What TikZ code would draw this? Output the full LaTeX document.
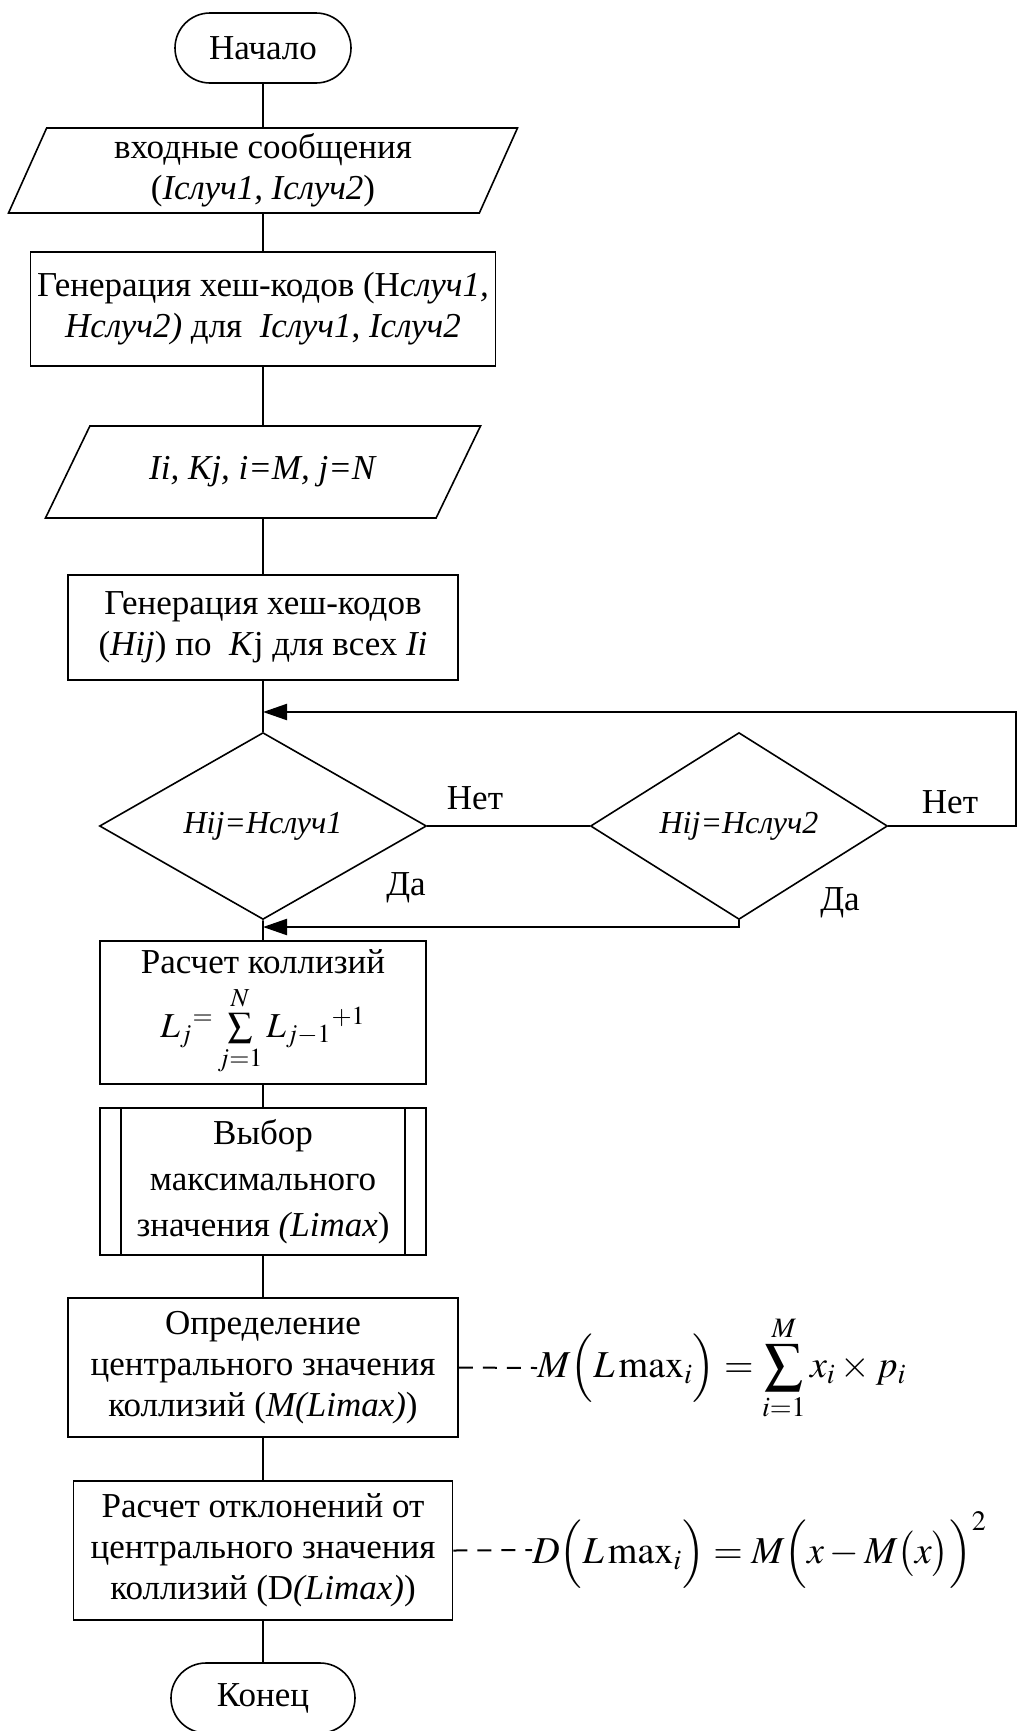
\documentclass[tikz,border=0pt]{standalone}
\usepackage{mathptmx}
\usepackage[no-math]{fontspec}
\setmainfont{Liberation Serif}
\usetikzlibrary{shapes.geometric,arrows.meta}
\tikzset{
  base/.style={draw,line width=0.8pt,align=center,inner sep=0pt,font=\fontsize{17.5}{20.5}\selectfont},
  term/.style={base,rectangle,rounded corners=17.5pt,minimum height=35pt},
  proc/.style={base,rectangle},
  io/.style={base,trapezium,trapezium left angle=#1,trapezium right angle=180-#1,trapezium stretches body},
  decide/.style={base,diamond,minimum height=69.5pt,font=\fontsize{16}{19}\selectfont\itshape},
  lbl/.style={font=\fontsize{17.5}{20.5}\selectfont},
  fml/.style={inner sep=0pt,font=\fontsize{19}{23}\selectfont},
  flow/.style={line width=0.8pt},
  back/.style={line width=1.1pt,-{Triangle[length=12pt,width=8pt]}},
  note/.style={line width=1pt,dash pattern=on 7pt off 5pt}
}
\begin{document}
\begin{tikzpicture}[x=0.5pt,y=-0.5pt]
\useasboundingbox (0,0) rectangle (1019,1731);
\node[term,minimum width=88pt] (start) at (263,48) {Начало};
\node[io=62.6,minimum width=254.5pt,minimum height=42.5pt] (in1) at (263,170.5) {входные сообщения\\(\textit{Iслуч1, Iслуч2})};
\node[proc,minimum width=232.5pt,minimum height=57pt] (gen1) at (263,309) {Генерация хеш-кодов (Н\textit{случ1,}\\\textit{Hслуч2)} для \ \textit{Iслуч1}, \textit{Iслуч2}};
\node[io=63.9,inner ysep=15pt,minimum width=217.5pt,minimum height=46pt] (in2) at (263,472) {\textit{Ii, Kj, i=M, j=N}};
\node[proc,minimum width=195pt,minimum height=52.5pt] (gen2) at (263,627.5) {Генерация хеш-кодов\\(\textit{Hij}) по \ \textit{K}j для всех \textit{Ii}};
\node[decide,minimum width=163.5pt] (d1) at (263,826) {Hij=Hслуч1};
\node[decide,minimum width=148.5pt] (d2) at (739,826) {Hij=Hслуч2};
\node[proc,minimum width=163pt,minimum height=71.5pt] (calc) at (263,1012.5) {Расчет коллизий\\[5pt]$L_j{}^{=}\sum\limits_{j=1}^{N}L_{j-1}{}^{+1}$};
\node[proc,minimum width=163pt,minimum height=73.5pt,font=\fontsize{17.5}{23}\selectfont] (sel) at (263,1181.5) {Выбор\\максимального\\значения \textit{(Limax})};
\node[proc,minimum width=195pt,minimum height=69.5pt] (mean) at (263,1367.5) {Определение\\центрального значения\\коллизий (\textit{M(Limax)})};
\node[proc,minimum width=189.5pt,minimum height=69.5pt] (dev) at (263,1550.5) {Расчет отклонений от\\центрального значения\\коллизий (D\textit{(Limax)})};
\node[term,minimum width=92pt] (stop) at (263,1698) {Конец};
\draw[flow] ([xshift=11pt]sel.north west) -- ([xshift=11pt]sel.south west);
\draw[flow] ([xshift=-11pt]sel.north east) -- ([xshift=-11pt]sel.south east);
\draw[flow] (start) -- (in1) -- (gen1) -- (in2) -- (gen2) -- (d1) -- (calc) -- (sel) -- (mean) -- (dev) -- (stop);
\draw[flow] (d1) -- (d2);
\coordinate (loopR) at (1016,712); \coordinate (loopL) at (263,712); \coordinate (joinL) at (263,927);
\draw[back] (d2.east) -| (loopR) -- (loopL);
\draw[back] (d2.south) |- (joinL);
\node[lbl] (no1) at (475,798) {Нет}; \node[lbl] (no2) at (950,802) {Нет};
\node[lbl] (yes1) at (406,888) {Да}; \node[lbl] (yes2) at (840,903) {Да};
\node[fml,anchor=west] (f1) at (537,1368) {$M\Bigl(L\,\mathrm{max}_i\Bigr)=\displaystyle\sum_{i=1}^{M}x_i\times p_i$};
\node[fml,anchor=west] (f2) at (532,1550) {$D\Bigl(L\,\mathrm{max}_i\Bigr)=M\Bigl(x-M\bigl(x\bigr)\Bigr)^{2}$};
\draw[note] (mean.east) -- (f1.west);
\draw[note] (dev.east) -- (f2.west);
\end{tikzpicture}
\end{document}
